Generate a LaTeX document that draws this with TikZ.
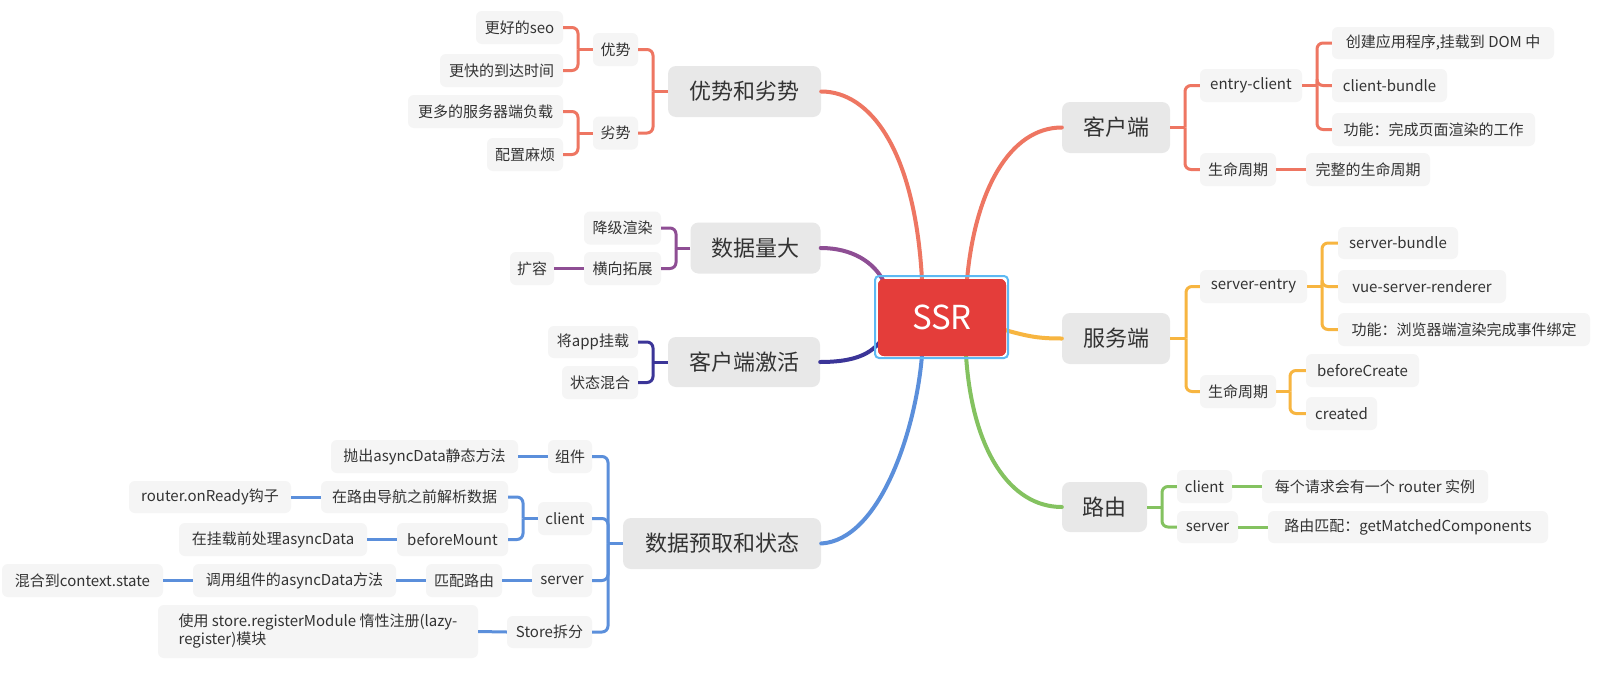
\documentclass[tikz,border=0pt]{standalone}
\usepackage{fontspec}
\setmainfont{Noto Sans CJK SC}
\begin{document}
\begin{tikzpicture}[x=1pt,y=-1pt]
\definecolor{cred}{HTML}{EE7662}
\definecolor{cpur}{HTML}{8E4E94}
\definecolor{cnavy}{HTML}{3B3598}
\definecolor{cblue}{HTML}{5B8FDB}
\definecolor{cyel}{HTML}{F7B540}
\definecolor{cgrn}{HTML}{84C260}
\definecolor{cssr}{HTML}{E43D3A}
\definecolor{csel}{HTML}{5DB9F3}
\definecolor{cmain}{HTML}{E8E8E8}
\definecolor{csub}{HTML}{F5F5F5}
\definecolor{ctxt}{HTML}{333333}
\tikzset{
  mainbox/.style={fill=cmain,rounded corners=8pt,inner sep=0pt,text=ctxt,font=\fontsize{22pt}{26pt}\selectfont},
  subbox/.style={fill=csub,rounded corners=6pt,inner sep=0pt,text=ctxt,font=\fontsize{15pt}{18pt}\selectfont},
  mline/.style={line width=4pt,line cap=round},
  bline/.style={line width=3pt},
  rbline/.style={line width=3pt,rounded corners=6pt}
}
\useasboundingbox[fill=white] (0,0) rectangle (1598,672);

% ---------- SSR ----------
\node[fill=cssr,rounded corners=6pt,minimum width=128pt,minimum height=77pt,inner sep=0pt,text=white,font=\fontsize{33pt}{38pt}\selectfont] (ssr) at (942,317.5) {SSR};

% ---------- left red: 优势和劣势 ----------
\node[mainbox,minimum width=153pt,minimum height=51pt] (ad) at (744.5,91.5) {优势和劣势};
\node[subbox,minimum width=45pt,minimum height=33pt] (ys) at (615.5,49.5) {优势};
\node[subbox,minimum width=45pt,minimum height=33pt] (ls) at (615.5,133) {劣势};
\node[subbox,minimum width=87pt,minimum height=33pt] (seo) at (519.5,27.5) {更好的seo};
\node[subbox,minimum width=123pt,minimum height=33pt] (kuai) at (501.5,70.5) {更快的到达时间};
\node[subbox,minimum width=155pt,minimum height=33pt] (duo) at (485.5,111.5) {更多的服务器端负载};
\node[subbox,minimum width=76pt,minimum height=33pt] (pz) at (525,154.5) {配置麻烦};
\coordinate (adj) at (653,91.5);
\coordinate (ysj) at (578,49.5);
\coordinate (lsj) at (578,133);
\draw[bline,cred] (ad.west) -- (adj);
\draw[rbline,cred] (adj) |- (ys.east);
\draw[rbline,cred] (adj) |- (ls.east);
\draw[bline,cred] (ys.west) -- (ysj);
\draw[rbline,cred] (ysj) |- (seo.east);
\draw[rbline,cred] (ysj) |- (kuai.east);
\draw[bline,cred] (ls.west) -- (lsj);
\draw[rbline,cred] (lsj) |- (duo.east);
\draw[rbline,cred] (lsj) |- (pz.east);

% ---------- purple: 数据量大 ----------
\node[mainbox,minimum width=130pt,minimum height=51pt] (sj) at (755.5,248) {数据量大};
\node[subbox,minimum width=77pt,minimum height=33pt] (jj) at (622.5,228) {降级渲染};
\node[subbox,minimum width=77pt,minimum height=33pt] (hx) at (622.5,268.5) {横向拓展};
\node[subbox,minimum width=44pt,minimum height=33pt] (kr) at (532,268.5) {扩容};
\coordinate (sjj) at (676,248);
\draw[bline,cpur] (sj.west) -- (sjj);
\draw[rbline,cpur] (sjj) |- (jj.east);
\draw[rbline,cpur] (sjj) |- (hx.east);
\draw[bline,cpur] (hx.west) -- (kr.east);

% ---------- navy: 客户端激活 ----------
\node[mainbox,minimum width=152pt,minimum height=50pt] (jh) at (744,362) {客户端激活};
\node[subbox,minimum width=90pt,minimum height=32pt] (gz) at (593,342) {将app挂载};
\node[subbox,minimum width=76pt,minimum height=33pt] (hh) at (600,382.5) {状态混合};
\coordinate (jhj) at (653,362);
\draw[bline,cnavy] (jh.west) -- (jhj);
\draw[rbline,cnavy] (jhj) |- (gz.east);
\draw[rbline,cnavy] (jhj) |- (hh.east);

% ---------- blue: 数据预取和状态 ----------
\node[mainbox,minimum width=198pt,minimum height=51pt] (yq) at (722,543.5) {数据预取和状态};
\node[subbox,minimum width=44pt,minimum height=33pt] (zj) at (570,456.5) {组件};
\node[subbox,minimum width=54pt,minimum height=33pt] (cl) at (565,518.5) {client};
\node[subbox,minimum width=60pt,minimum height=33pt] (sv) at (562,580.5) {server};
\node[subbox,minimum width=85pt,minimum height=32pt] (st) at (549.5,632) {Store拆分};
\node[subbox,minimum width=187pt,minimum height=33pt] (pc) at (424.5,456.5) {抛出asyncData静态方法};
\node[subbox,minimum width=187pt,minimum height=32pt] (jx) at (414.5,497) {在路由导航之前解析数据};
\node[subbox,minimum width=162pt,minimum height=32pt] (ro) at (210,497) {router.onReady钩子};
\node[subbox,minimum width=111pt,minimum height=33pt] (bm) at (452.5,539.5) {beforeMount};
\node[subbox,minimum width=188pt,minimum height=33pt] (cz) at (273,539.5) {在挂载前处理asyncData};
\node[subbox,minimum width=76pt,minimum height=33pt] (pp) at (464,580.5) {匹配路由};
\node[subbox,minimum width=203pt,minimum height=33pt] (dy) at (294.5,580.5) {调用组件的asyncData方法};
\node[subbox,minimum width=161pt,minimum height=33pt] (hc) at (82.5,580.5) {混合到context.state};
\node[subbox,minimum width=320pt,minimum height=53pt,align=left] (sr) at (318,631.5) {使用 store.registerModule 惰性注册(lazy-\\register)模块\hspace*{175pt}};
\coordinate (yqj) at (608,543.5);
\coordinate (clj) at (523,518.5);
\draw[bline,cblue] (yq.west) -- (yqj);
\draw[rbline,cblue] (yqj) |- (zj.east);
\draw[rbline,cblue] (yqj) |- (cl.east);
\draw[rbline,cblue] (yqj) |- (sv.east);
\draw[rbline,cblue] (yqj) |- (st.east);
\draw[bline,cblue] (zj.west) -- (pc.east);
\draw[bline,cblue] (cl.west) -- (clj);
\draw[rbline,cblue] (clj) |- (jx.east);
\draw[rbline,cblue] (clj) |- (bm.east);
\draw[bline,cblue] (jx.west) -- (ro.east);
\draw[bline,cblue] (bm.west) -- (cz.east);
\draw[bline,cblue] (sv.west) -- (pp.east);
\draw[bline,cblue] (pp.west) -- (dy.east);
\draw[bline,cblue] (dy.west) -- (hc.east);
\draw[bline,cblue] (st.west) -- (sr.east);

% ---------- right red: 客户端 ----------
\node[mainbox,minimum width=108pt,minimum height=51pt] (kh) at (1116,127.5) {客户端};
\node[subbox,minimum width=102pt,minimum height=33pt] (ec) at (1251,85.5) {entry-client};
\node[subbox,minimum width=76pt,minimum height=33pt] (sma) at (1238,169.5) {生命周期};
\node[subbox,minimum width=222pt,minimum height=32pt] (cj) at (1443,43) {创建应用程序,挂载到 DOM 中};
\node[subbox,minimum width=115pt,minimum height=33pt] (cb) at (1389.5,85.5) {client-bundle};
\node[subbox,minimum width=203pt,minimum height=33pt] (gna) at (1433.5,129.5) {功能：完成页面渲染的工作};
\node[subbox,minimum width=124pt,minimum height=33pt] (wz) at (1368,169.5) {完整的生命周期};
\coordinate (khj) at (1185,127.5);
\coordinate (ecj) at (1317,85.5);
\draw[bline,cred] (kh.east) -- (khj);
\draw[rbline,cred] (khj) |- (ec.west);
\draw[rbline,cred] (khj) |- (sma.west);
\draw[bline,cred] (ec.east) -- (ecj);
\draw[rbline,cred] (ecj) |- (cj.west);
\draw[rbline,cred] (ecj) |- (cb.west);
\draw[rbline,cred] (ecj) |- (gna.west);
\draw[bline,cred] (sma.east) -- (wz.west);

% ---------- yellow: 服务端 ----------
\node[mainbox,minimum width=108pt,minimum height=51pt] (fw) at (1116,338.5) {服务端};
\node[subbox,minimum width=107pt,minimum height=33pt] (se) at (1253.5,286.5) {server-entry};
\node[subbox,minimum width=76pt,minimum height=33pt] (smb) at (1238,391.5) {生命周期};
\node[subbox,minimum width=120pt,minimum height=32pt] (sb) at (1398,243) {server-bundle};
\node[subbox,minimum width=168pt,minimum height=33pt] (vr) at (1422,286.5) {vue-server-renderer};
\node[subbox,minimum width=252pt,minimum height=33pt] (gnb) at (1464,329.5) {功能：浏览器端渲染完成事件绑定};
\node[subbox,minimum width=113pt,minimum height=33pt] (bc) at (1362.5,370.5) {beforeCreate};
\node[subbox,minimum width=71pt,minimum height=33pt] (cr) at (1341.5,413.5) {created};
\coordinate (fwj) at (1186,338.5);
\coordinate (sej) at (1322,286.5);
\coordinate (smbj) at (1290,391.5);
\draw[bline,cyel] (fw.east) -- (fwj);
\draw[rbline,cyel] (fwj) |- (se.west);
\draw[rbline,cyel] (fwj) |- (smb.west);
\draw[bline,cyel] (se.east) -- (sej);
\draw[rbline,cyel] (sej) |- (sb.west);
\draw[rbline,cyel] (sej) |- (vr.west);
\draw[rbline,cyel] (sej) |- (gnb.west);
\draw[bline,cyel] (smb.east) -- (smbj);
\draw[rbline,cyel] (smbj) |- (bc.west);
\draw[rbline,cyel] (smbj) |- (cr.west);

% ---------- green: 路由 ----------
\node[mainbox,minimum width=85pt,minimum height=50pt] (ly) at (1104.5,507) {路由};
\node[subbox,minimum width=55pt,minimum height=33pt] (lc) at (1204.5,486.5) {client};
\node[subbox,minimum width=61pt,minimum height=32pt] (lsv) at (1207.5,527) {server};
\node[subbox,minimum width=226pt,minimum height=33pt] (ml) at (1375,486.5) {每个请求会有一个 router 实例};
\node[subbox,minimum width=280pt,minimum height=32pt] (pm) at (1408,527) {路由匹配：getMatchedComponents};
\coordinate (lyj) at (1162,507);
\draw[bline,cgrn] (ly.east) -- (lyj);
\draw[rbline,cgrn] (lyj) |- (lc.west);
\draw[rbline,cgrn] (lyj) |- (lsv.west);
\draw[bline,cgrn] (lc.east) -- (ml.west);
\draw[bline,cgrn] (lsv.east) -- (pm.west);

% ---------- main curves ----------
\coordinate (ssrtl) at (922,280);
\coordinate (ssrtr) at (967,280);
\coordinate (ssrbl) at (922,355);
\coordinate (ssrbr) at (966,355);
\coordinate (ssrpur) at (884,282);
\coordinate (ssrnav) at (879,343);
\coordinate (ssrr) at (1005,330);
\draw[mline,cred] (ad.east) .. controls (870,91.5) and (915,150) .. (ssrtl);
\draw[mline,cpur] (sj.east) .. controls (852,248) and (874,262) .. (ssrpur);
\draw[mline,cnavy] (jh.east) .. controls (850,362) and (868,356) .. (ssrnav);
\draw[mline,cblue] (yq.east) .. controls (880,540) and (916,430) .. (ssrbl);
\draw[mline,cred] (ssrtr) .. controls (975,190) and (1010,127.5) .. (kh.west);
\draw[mline,cyel] (ssrr) .. controls (1030,337) and (1040,338.5) .. (fw.west);
\draw[mline,cgrn] (ssrbr) .. controls (972,450) and (1010,507) .. (ly.west);

% SSR on top with selection outline
\node[fill=cssr,rounded corners=6pt,minimum width=128pt,minimum height=77pt,inner sep=0pt,text=white,font=\fontsize{33pt}{38pt}\selectfont] at (ssr) {SSR};
\draw[csel,line width=2pt,rounded corners=4pt] (875,276) rectangle (1008,358);
\end{tikzpicture}
\end{document}
